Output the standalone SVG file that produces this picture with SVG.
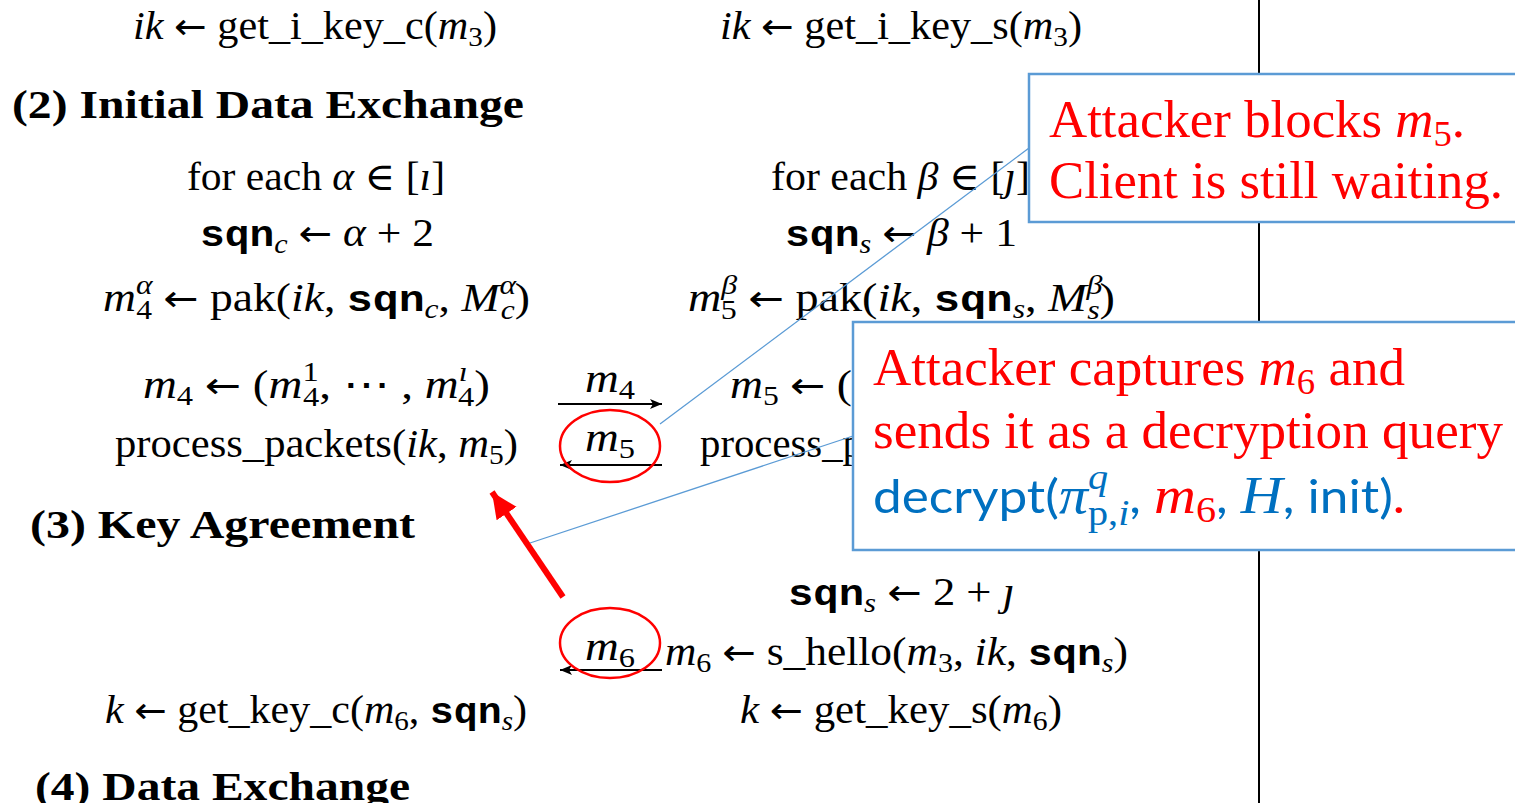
<svg xmlns="http://www.w3.org/2000/svg" width="1515" height="803" viewBox="0 0 1515 803">
<style>
.m{font-family:"Liberation Serif","DejaVu Serif",serif;font-size:39px;fill:#000}
.i{font-style:italic}
.s{font-size:27px}
.ar{font-family:"DejaVu Sans",sans-serif;font-size:36px}
.tt{font-family:"Liberation Mono","DejaVu Sans Mono",monospace;font-weight:bold;font-size:37px}
.hd{font-family:"Liberation Serif","DejaVu Serif",serif;font-weight:bold;font-size:40px;fill:#000}
.cr{font-family:"Liberation Serif","DejaVu Serif",serif;font-size:52px;fill:#f00}
.cs{font-size:36px}
.cb{fill:#0070C0}
.sans{font-family:Lato,"Open Sans",sans-serif;font-size:46px}
.box{fill:#fff;stroke:#5B9BD5;stroke-width:2.5}
.lead{stroke:#5B9BD5;stroke-width:1.3;fill:none}
.msg{stroke:#000;stroke-width:2;fill:none}
.ring{stroke:#f00;stroke-width:2.5;fill:none}
</style>
<defs>
<marker id="bh" markerUnits="userSpaceOnUse" markerWidth="14" markerHeight="12" refX="12" refY="5" orient="auto"><path d="M0,0 L12,5 L0,10 L3,5 z" fill="#000"/></marker>
<marker id="rh" markerUnits="userSpaceOnUse" markerWidth="30" markerHeight="26" refX="26" refY="12" orient="auto"><path d="M0,0 L26,12 L0,24 z" fill="#f00"/></marker>
</defs>
<rect width="1515" height="803" fill="#fff"/>
<line x1="1259" y1="0" x2="1259" y2="803" stroke="#000" stroke-width="2"/>
<g id="client">
<text class="m" x="133" y="39" textLength="364" lengthAdjust="spacingAndGlyphs"><tspan class="i">ik</tspan> <tspan class="ar">←</tspan> get_i_key_c(<tspan class="i">m</tspan><tspan class="s" dy="7">3</tspan><tspan dy="-7">)</tspan></text>
<text class="hd" x="12" y="118" textLength="512" lengthAdjust="spacingAndGlyphs">(2) Initial Data Exchange</text>
<text class="m" x="187" y="190" textLength="258" lengthAdjust="spacingAndGlyphs">for each <tspan class="i">α</tspan> ∈ [<tspan class="i">ı</tspan>]</text>
<text class="m" x="200" y="246" textLength="234" lengthAdjust="spacingAndGlyphs"><tspan class="tt">sqn</tspan><tspan class="s i" dy="7">c</tspan><tspan dy="-7"> </tspan><tspan class="ar">←</tspan> <tspan class="i">α</tspan> + 2</text>
<text class="m" x="103" y="311" textLength="427" lengthAdjust="spacingAndGlyphs"><tspan class="i">m</tspan><tspan class="s i" dy="-17">α</tspan><tspan class="s" dx="-14" dy="25">4</tspan><tspan dy="-8"> </tspan><tspan class="ar">←</tspan> pak(<tspan class="i">ik</tspan>, <tspan class="tt">sqn</tspan><tspan class="s i" dy="7">c</tspan><tspan dy="-7">, </tspan><tspan class="i">M</tspan><tspan class="s i" dy="-17">α</tspan><tspan class="s i" dx="-13" dy="25">c</tspan><tspan dy="-8">)</tspan></text>
<text class="m" x="143" y="398" textLength="347" lengthAdjust="spacingAndGlyphs"><tspan class="i">m</tspan><tspan class="s" dy="7">4</tspan><tspan dy="-7"> </tspan><tspan class="ar">←</tspan> (<tspan class="i">m</tspan><tspan class="s" dy="-17">1</tspan><tspan class="s" dx="-13" dy="25">4</tspan><tspan dy="-8">, ⋯ , </tspan><tspan class="i">m</tspan><tspan class="s i" dy="-17">ı</tspan><tspan class="s" dx="-8" dy="25">4</tspan><tspan dy="-8">)</tspan></text>
<text class="m" x="115" y="457" textLength="403" lengthAdjust="spacingAndGlyphs">process_packets(<tspan class="i">ik</tspan>, <tspan class="i">m</tspan><tspan class="s" dy="7">5</tspan><tspan dy="-7">)</tspan></text>
<text class="hd" x="30" y="538" textLength="385" lengthAdjust="spacingAndGlyphs">(3) Key Agreement</text>
<text class="m" x="105" y="723" textLength="422" lengthAdjust="spacingAndGlyphs"><tspan class="i">k</tspan> <tspan class="ar">←</tspan> get_key_c(<tspan class="i">m</tspan><tspan class="s" dy="7">6</tspan><tspan dy="-7">, </tspan><tspan class="tt">sqn</tspan><tspan class="s i" dy="7">s</tspan><tspan dy="-7">)</tspan></text>
<text class="hd" x="35" y="800" textLength="375" lengthAdjust="spacingAndGlyphs">(4) Data Exchange</text>
</g>
<g id="server">
<text class="m" x="720" y="39" textLength="362" lengthAdjust="spacingAndGlyphs"><tspan class="i">ik</tspan> <tspan class="ar">←</tspan> get_i_key_s(<tspan class="i">m</tspan><tspan class="s" dy="7">3</tspan><tspan dy="-7">)</tspan></text>
<text class="m" x="771" y="190" textLength="259" lengthAdjust="spacingAndGlyphs">for each <tspan class="i">β</tspan> ∈ [<tspan class="i">ȷ</tspan>]</text>
<text class="m" x="785" y="246" textLength="232" lengthAdjust="spacingAndGlyphs"><tspan class="tt">sqn</tspan><tspan class="s i" dy="7">s</tspan><tspan dy="-7"> </tspan><tspan class="ar">←</tspan> <tspan class="i">β</tspan> + 1</text>
<text class="m" x="688" y="311" textLength="427" lengthAdjust="spacingAndGlyphs"><tspan class="i">m</tspan><tspan class="s i" dy="-17">β</tspan><tspan class="s" dx="-14" dy="25">5</tspan><tspan dy="-8"> </tspan><tspan class="ar">←</tspan> pak(<tspan class="i">ik</tspan>, <tspan class="tt">sqn</tspan><tspan class="s i" dy="7">s</tspan><tspan dy="-7">, </tspan><tspan class="i">M</tspan><tspan class="s i" dy="-17">β</tspan><tspan class="s i" dx="-13" dy="25">s</tspan><tspan dy="-8">)</tspan></text>
<text class="m" x="730" y="398" textLength="122" lengthAdjust="spacingAndGlyphs"><tspan class="i">m</tspan><tspan class="s" dy="7">5</tspan><tspan dy="-7"> </tspan><tspan class="ar">←</tspan> (</text>
<text class="m" x="700" y="457" textLength="163" lengthAdjust="spacingAndGlyphs">process_p</text>
<text class="m" x="788" y="605" textLength="227" lengthAdjust="spacingAndGlyphs"><tspan class="tt">sqn</tspan><tspan class="s i" dy="7">s</tspan><tspan dy="-7"> </tspan><tspan class="ar">←</tspan> 2 + <tspan class="i">ȷ</tspan></text>
<text class="m" x="665" y="665" textLength="463" lengthAdjust="spacingAndGlyphs"><tspan class="i">m</tspan><tspan class="s" dy="7">6</tspan><tspan dy="-7"> </tspan><tspan class="ar">←</tspan> s_hello(<tspan class="i">m</tspan><tspan class="s" dy="7">3</tspan><tspan dy="-7">, </tspan><tspan class="i">ik</tspan>, <tspan class="tt">sqn</tspan><tspan class="s i" dy="7">s</tspan><tspan dy="-7">)</tspan></text>
<text class="m" x="740" y="723" textLength="322" lengthAdjust="spacingAndGlyphs"><tspan class="i">k</tspan> <tspan class="ar">←</tspan> get_key_s(<tspan class="i">m</tspan><tspan class="s" dy="7">6</tspan><tspan dy="-7">)</tspan></text>
</g>
<g id="connectors">
<line class="msg" x1="558" y1="404" x2="662" y2="404" marker-end="url(#bh)"/>
<line class="msg" x1="662" y1="465" x2="560" y2="465" marker-end="url(#bh)"/>
<line class="msg" x1="662" y1="670" x2="560" y2="670" marker-end="url(#bh)"/>
<text class="m" x="585" y="392" textLength="50" lengthAdjust="spacingAndGlyphs"><tspan class="i">m</tspan><tspan class="s" dy="7">4</tspan></text>
<text class="m" x="585" y="451" textLength="50" lengthAdjust="spacingAndGlyphs"><tspan class="i">m</tspan><tspan class="s" dy="7">5</tspan></text>
<text class="m" x="585" y="660" textLength="50" lengthAdjust="spacingAndGlyphs"><tspan class="i">m</tspan><tspan class="s" dy="7">6</tspan></text>
<ellipse class="ring" cx="610" cy="446" rx="50" ry="36"/>
<ellipse class="ring" cx="610" cy="643" rx="50" ry="35"/>
<line class="lead" x1="660" y1="424" x2="1029" y2="148"/>
<line class="lead" x1="530" y1="543" x2="853" y2="436"/>
<line x1="563" y1="597" x2="492" y2="492" stroke="#f00" stroke-width="6" marker-end="url(#rh)"/>
</g>
<g id="callout-block">
<rect class="box" x="1029" y="74" width="500" height="148"/>
<text class="cr" x="1049" y="137" textLength="416" lengthAdjust="spacingAndGlyphs">Attacker blocks <tspan class="i">m</tspan><tspan class="cs" dy="9">5</tspan><tspan dy="-9">.</tspan></text>
<text class="cr" x="1049" y="198" textLength="454" lengthAdjust="spacingAndGlyphs">Client is still waiting.</text>
</g>
<g id="callout-capture">
<rect class="box" x="853" y="322" width="680" height="228"/>
<text class="cr" x="873" y="385" textLength="532" lengthAdjust="spacingAndGlyphs">Attacker captures <tspan class="i">m</tspan><tspan class="cs" dy="9">6</tspan><tspan dy="-9"> and</tspan></text>
<text class="cr" x="873" y="448" textLength="630" lengthAdjust="spacingAndGlyphs">sends it as a decryption query</text>
<text class="cr" x="873" y="513" textLength="532" lengthAdjust="spacingAndGlyphs"><tspan class="sans cb">decrypt(</tspan><tspan class="i cb">π</tspan><tspan class="i cb cs" dy="-24">q</tspan><tspan class="cb cs" dx="-18" dy="36">p,</tspan><tspan class="i cb cs">i</tspan><tspan class="sans cb" dy="-12">, </tspan><tspan class="i">m</tspan><tspan class="cs" dy="9">6</tspan><tspan class="sans cb" dy="-9">, </tspan><tspan class="i cb">H</tspan><tspan class="sans cb">, init)</tspan><tspan class="sans">.</tspan></text>
</g>
</svg>
